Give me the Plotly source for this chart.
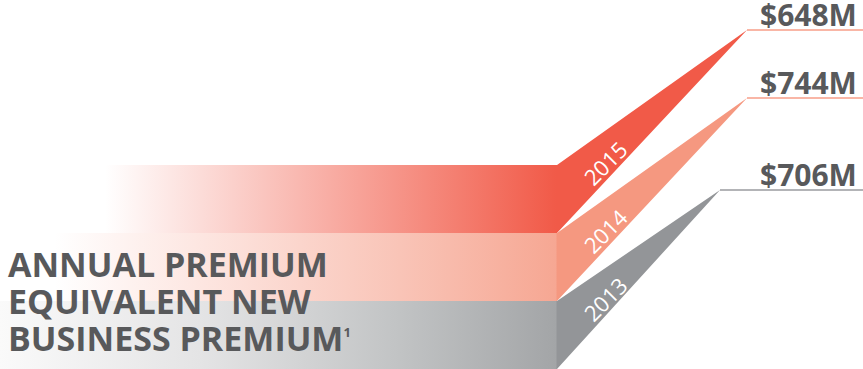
import plotly.graph_objects as go

# ---- data ----
years = ["2015", "2014", "2013"]
values = [648, 744, 706]
value_labels = ["$%dM" % v for v in values]
title_lines = ["ANNUAL PREMIUM", "EQUIVALENT NEW",
               "BUSINESS PREMIUM<sup><span style='font-size:13px'>1</span></sup>"]

# ---- styling / layout geometry (pixel-space canvas) ----
W, H = 863, 369
band_top = [165, 233, 301]
band_h = 68
kink_x = 557
apex_x = [747, 747, 720]
apex_y = [30, 98, 190]
full_colors = [(241, 90, 72), (245, 152, 128), (147, 149, 152)]
line_colors = ["#f9b6a6", "#f9b6a6", "#b3b4b7"]
# gradient stops: (x position, fraction of full colour)
grad_stops = [
    [(0, 0.0), (105, 0.0), (556, 1.0), (557, 1.0)],
    [(0, 0.0), (55, 0.0), (200, 0.24), (400, 0.57), (556, 0.85), (557, 1.0)],
    [(0, 0.05), (200, 0.25), (400, 0.57), (556, 0.85), (557, 1.0)],
]
text_color = "#58595b"


def mix(c, f):
    return "rgb(%d,%d,%d)" % tuple(round(255 - f * (255 - v)) for v in c)


fig = go.Figure()

for i, yr in enumerate(years):
    top = band_top[i]
    bot = min(top + band_h, H)
    xs = [0, kink_x, apex_x[i], kink_x, 0, 0]
    ys = [top, top, apex_y[i], bot, bot, top]
    cs = [[x / kink_x, mix(full_colors[i], f)] for x, f in grad_stops[i]]
    fig.add_trace(go.Scatter(
        x=xs, y=ys, mode="lines", fill="toself",
        line=dict(width=0),
        fillgradient=dict(type="horizontal", colorscale=cs, start=0, stop=kink_x),
        hoverinfo="skip", showlegend=False,
    ))
    # leader line
    fig.add_trace(go.Scatter(
        x=[apex_x[i], W], y=[apex_y[i], apex_y[i]], mode="lines",
        line=dict(color=line_colors[i], width=2),
        hoverinfo="skip", showlegend=False,
    ))
    # value label
    fig.add_annotation(
        x=859, y=apex_y[i] + 7, text=value_labels[i], showarrow=False,
        xanchor="right", yanchor="bottom",
        font=dict(family="Open Sans", size=30, color=text_color, weight=700),
    )
    # year label
    fig.add_annotation(
        x=605, y=top - 2, text=yr, showarrow=False, textangle=-45,
        xanchor="center", yanchor="middle",
        font=dict(family="Open Sans", size=22, color="white"),
    )

for j, t in enumerate(title_lines):
    fig.add_annotation(
        x=6, y=264 + 37 * j, text=t, showarrow=False,
        xanchor="left", yanchor="middle",
        font=dict(family="Open Sans", size=34, color=text_color, weight=700),
    )

fig.update_layout(
    width=W, height=H,
    margin=dict(l=0, r=0, t=0, b=0),
    paper_bgcolor="white", plot_bgcolor="white",
    xaxis=dict(range=[0, W], visible=False, fixedrange=True),
    yaxis=dict(range=[H, 0], visible=False, fixedrange=True),
)

fig.write_html("out.html", config={"displayModeBar": False},
               post_script="document.body.style.margin='0';document.body.style.overflow='hidden';")
